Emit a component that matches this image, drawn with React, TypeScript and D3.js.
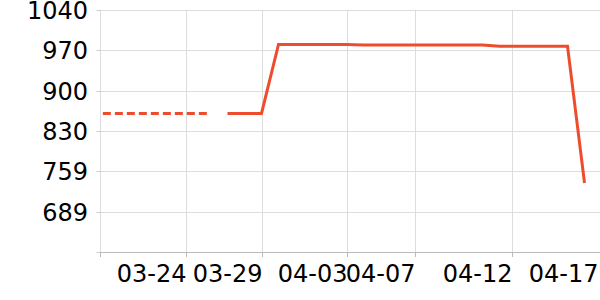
import React from "react";
import * as d3 from "d3";

const W = 600;
const H = 300;

// Dashed (earlier) segment
const dashedDates = ["2024-03-19T16:00:00Z", "2024-03-20T00:00:00Z", "2024-03-21T00:00:00Z", "2024-03-22T00:00:00Z", "2024-03-23T00:00:00Z", "2024-03-24T00:00:00Z", "2024-03-25T00:00:00Z", "2024-03-26T00:00:00Z"];
const dashedValues = [860, 860, 860, 860, 860, 860, 860, 860];

// Solid segment
const solidDates = [
  "2024-03-27", "2024-03-28", "2024-03-29", "2024-03-30", "2024-03-31",
  "2024-04-01", "2024-04-02", "2024-04-03", "2024-04-04", "2024-04-05",
  "2024-04-06", "2024-04-07", "2024-04-08", "2024-04-09", "2024-04-10",
  "2024-04-11", "2024-04-12", "2024-04-13", "2024-04-14", "2024-04-15",
  "2024-04-16", "2024-04-17",
];
const solidValues = [
  860, 860, 860, 980, 980,
  980, 980, 980, 979, 979,
  979, 979, 979, 979, 979,
  979, 977, 977, 977, 977,
  977, 739,
];

const xDomain = ["2024-03-19T12:42:00Z", "2024-04-17T21:51:00Z"];
const xTickDates = ["2024-03-24T12:42:00Z", "2024-03-29T00:00:00Z", "2024-04-03T00:00:00Z", "2024-04-07T00:00:00Z", "2024-04-12T16:56:00Z", "2024-04-17T18:20:00Z"];
const xTickLabels = ["03-24", "03-29", "04-03", "04-07", "04-12", "04-17"];

const yMin = 619;
const yMax = 1040;
const ySplits = 6;

const COLOR = "#ee4d2d";
const FONT = "DejaVu Sans, sans-serif";

export default function App() {
  const left = 100.5;
  const right = 600;
  const top = 10;
  const bottom = 252;

  const x = d3.scaleUtc().domain(xDomain.map((d) => new Date(d))).range([left, right]);
  const y = d3.scaleLinear().domain([yMin, yMax]).range([bottom, top]);

  const parse = (s: string) => new Date(s.length === 10 ? s + "T00:00:00Z" : s);

  const line = d3
    .line<[Date, number]>()
    .x((d) => x(d[0]))
    .y((d) => y(d[1]));

  const dashedData: [Date, number][] = dashedDates.map((d, i) => [parse(d), dashedValues[i]]);
  const solidData: [Date, number][] = solidDates.map((d, i) => [parse(d), solidValues[i]]);

  const yTicks = d3.range(ySplits + 1).map((i) => yMin + (i * (yMax - yMin)) / ySplits);
  const lastIdx = xTickDates.length - 1;

  return (
    <svg width={W} height={H} style={{ position: "absolute", left: 0, top: 0 }} fontFamily={FONT}>
      {/* horizontal grid */}
      {yTicks.map((v, i) =>
        i === 0 ? null : (
          <line key={"hg" + i} x1={left} x2={right} y1={Math.round(y(v)) + 0.5} y2={Math.round(y(v)) + 0.5} stroke="#dddddd" strokeWidth={1} />
        )
      )}
      {/* vertical grid */}
      {xTickDates.map((d, i) => {
        if (i === lastIdx) return null;
        const px = Math.round(x(parse(d))) + 0.5;
        return <line key={"vg" + i} x1={px} x2={px} y1={top} y2={bottom} stroke="#dddddd" strokeWidth={1} />;
      })}
      {/* left axis line */}
      <line x1={left} x2={left} y1={top} y2={bottom} stroke="#dddddd" strokeWidth={1} />
      {/* y tick marks */}
      {yTicks.map((v, i) => (
        <line key={"yt" + i} x1={left - 4} x2={left} y1={Math.round(y(v)) + 0.5} y2={Math.round(y(v)) + 0.5} stroke="#cccccc" strokeWidth={1} />
      ))}
      {/* bottom axis */}
      <line x1={left} x2={right} y1={bottom + 0.5} y2={bottom + 0.5} stroke="#bbbbbb" strokeWidth={1} />
      <line x1={left} x2={left} y1={bottom} y2={bottom + 5} stroke="#bbbbbb" strokeWidth={1} />
      {xTickDates.map((d, i) => {
        if (i === lastIdx) return null;
        const px = Math.round(x(parse(d))) + 0.5;
        return <line key={"xt" + i} x1={px} x2={px} y1={bottom} y2={bottom + 5} stroke="#bbbbbb" strokeWidth={1} />;
      })}
      {/* y labels */}
      {yTicks.map((v, i) =>
        i === 0 ? null : (
          <text key={"yl" + i} x={88} y={y(v) + 1} textAnchor="end" dominantBaseline="central" fontSize={24} fill="#000">
            {Math.round(v)}
          </text>
        )
      )}
      {/* x labels */}
      {xTickDates.map((d, i) => (
        <text key={"xl" + i} x={x(parse(d)) + 1} y={274} textAnchor="end" dominantBaseline="central" fontSize={24} fill="#000">
          {xTickLabels[i]}
        </text>
      ))}
      {/* lines */}
      <path d={line(dashedData) || ""} fill="none" stroke={COLOR} strokeWidth={3} strokeDasharray="8,4" />
      <path d={line(solidData) || ""} fill="none" stroke={COLOR} strokeWidth={3} strokeLinejoin="miter" />
    </svg>
  );
}
